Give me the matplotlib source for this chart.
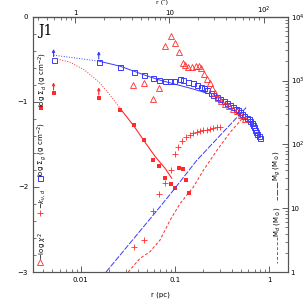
import numpy as np
import matplotlib.pyplot as plt
from matplotlib.ticker import FixedLocator, FixedFormatter, MultipleLocator, LogLocator, NullFormatter

# gas surface density (open blue squares), r in pc
r_gas = [0.00513, 0.0155, 0.026, 0.0364, 0.0468, 0.0577, 0.0676, 0.0783, 0.0885, 0.0976,
         0.113, 0.1216, 0.1375, 0.154, 0.170, 0.1876, 0.204, 0.219, 0.240, 0.254,
         0.278, 0.301, 0.328, 0.355, 0.385, 0.414, 0.440, 0.468, 0.490, 0.513,
         0.545, 0.580, 0.605, 0.628, 0.655, 0.676, 0.695, 0.710, 0.730, 0.751, 0.770, 0.789]
sig_gas = [-0.509, -0.536, -0.588, -0.647, -0.686, -0.725, -0.745, -0.756, -0.760, -0.756,
           -0.736, -0.745, -0.765, -0.784, -0.804, -0.824, -0.842, -0.862, -0.894, -0.921,
           -0.948, -0.972, -0.995, -1.019, -1.042, -1.066, -1.080, -1.098, -1.120, -1.145,
           -1.165, -1.184, -1.205, -1.224, -1.250, -1.274, -1.300, -1.333, -1.355, -1.380, -1.400, -1.419]

# gas model
r_gmod = [0.00513, 0.0155, 0.026, 0.0366, 0.0478, 0.0692, 0.100, 0.1445, 0.219]
sig_gmod = [-0.451, -0.521, -0.580, -0.639, -0.686, -0.745, -0.792, -0.839, -0.898]

# dust surface density (filled red squares)
r_dust = [0.00513, 0.0155, 0.026, 0.0366, 0.0470, 0.0577, 0.0677, 0.0781, 0.0896, 0.100,
          0.1106, 0.1201, 0.1307, 0.1417]
sig_dust = [-0.901, -0.960, -1.092, -1.268, -1.447, -1.682, -1.751, -1.889, -1.966, -2.007,
            -1.776, -1.786, -1.913, -2.066]

# dust model (dotted inside, solid outside)
r_dmod_in = [0.00528, 0.00764, 0.0110, 0.0155, 0.0204, 0.0260]
sig_dmod_in = [-0.489, -0.533, -0.627, -0.765, -0.921, -1.074]
r_dmod_out = [0.0260, 0.0367, 0.0480, 0.0612, 0.0783, 0.0923]
sig_dmod_out = [-1.074, -1.286, -1.474, -1.639, -1.780, -1.898]

# -log chi^2 (open red triangles)
r_chi = [0.0362, 0.0468, 0.0577, 0.0679, 0.0783, 0.0900, 0.1000, 0.1104, 0.1202, 0.1263,
         0.1385, 0.1527, 0.1660, 0.1778, 0.1876, 0.2009, 0.2173, 0.2328, 0.2475, 0.2665,
         0.2891, 0.3085, 0.3403, 0.3752, 0.4137, 0.4565, 0.5036, 0.5489]
chi = [-0.807, -0.774, -0.965, -0.842, -0.341, -0.221, -0.304, -0.412, -0.539, -0.568,
       -0.588, -0.588, -0.576, -0.580, -0.600, -0.668, -0.727, -0.784, -0.839, -0.898,
       -0.960, -0.992, -1.021, -1.051, -1.080, -1.109, -1.151, -1.198]

# -k_nu,d (red pluses)
r_k = [0.0366, 0.0470, 0.0577, 0.0679, 0.0787, 0.0896, 0.0996, 0.1084, 0.1197, 0.1319,
       0.1445, 0.1567, 0.1703, 0.1846, 0.2001, 0.2173, 0.2356, 0.2554, 0.2777, 0.3011]
k = [-2.706, -2.627, -2.282, -2.082, -1.959, -1.804, -1.609, -1.527, -1.462, -1.409,
     -1.384, -1.365, -1.353, -1.345, -1.333, -1.325, -1.318, -1.309, -1.301, -1.294]

# enclosed masses (right axis)
r_mg = [0.0185, 0.0692, 0.096, 0.170, 0.569]
m_g = [1.0, 10.5, 19.1, 56.2, 378]
r_md = [0.0318, 0.0425, 0.0542, 0.0692, 0.0885, 0.113, 0.1566, 0.200, 0.278, 0.385, 0.533]
m_d = [1.0, 1.64, 2.08, 3.16, 6.49, 11.8, 21.5, 39.3, 80.5, 155, 267]

RED = '#ff2a2a'
BLUE = '#3a3aff'
FS = 5

fig = plt.figure(figsize=(3.05, 3.05), dpi=100)
ax = fig.add_axes([0.108, 0.108, 0.836, 0.837])
ax.set_xscale('log')
ax.set_xlim(0.0031, 1.58)
ax.set_ylim(-3, 0)

# gas
ax.plot(r_gmod[:2], sig_gmod[:2], ls=':', color=BLUE, lw=0.7)
ax.plot(r_gmod[1:], sig_gmod[1:], ls='-', color=BLUE, lw=0.7)
ax.plot(r_gas, sig_gas, 's', mfc='none', mec=BLUE, ms=3.6, mew=0.7)

# dust
ax.plot(r_dmod_in, sig_dmod_in, ls=':', color=RED, lw=0.7)
ax.plot(r_dmod_out, sig_dmod_out, ls='-', color=RED, lw=0.8)
ax.plot(r_dust, sig_dust, 's', color=RED, ms=3.4, mew=0)

# limit arrows on the two innermost points
for i in range(2):
    ax.annotate('', xy=(r_gas[i], sig_gas[i]), xytext=(0, 8), textcoords='offset points',
                arrowprops=dict(arrowstyle='<|-', color=BLUE, lw=0.8, mutation_scale=4,
                                shrinkA=0, shrinkB=2.5))
    ax.annotate('', xy=(r_dust[i], sig_dust[i]), xytext=(0, 8), textcoords='offset points',
                arrowprops=dict(arrowstyle='<|-', color=RED, lw=0.8, mutation_scale=4,
                                shrinkA=0, shrinkB=2.5))

ax.plot(r_chi, chi, '^', mfc='none', mec=RED, ms=3.8, mew=0.6)
ax.plot(r_k, k, '+', color=RED, ms=5, mew=0.6)

# right axis: masses
ax2 = ax.twinx()
ax2.set_yscale('log')
ax2.set_ylim(1, 1e4)
ax2.plot(r_mg, m_g, ls=(0, (6, 1.5)), color=BLUE, lw=0.7)
ax2.plot(r_md, m_d, ls=(0, (3, 2)), color=RED, lw=0.7)

# ticks
ax.xaxis.set_major_locator(FixedLocator([0.01, 0.1, 1]))
ax.xaxis.set_major_formatter(FixedFormatter(['0.01', '0.1', '1']))
ax.xaxis.set_minor_locator(LogLocator(base=10, subs=np.arange(2, 10)))
ax.xaxis.set_minor_formatter(NullFormatter())
ax.yaxis.set_major_locator(FixedLocator([0, -1, -2, -3]))
ax.yaxis.set_major_formatter(FixedFormatter(['0', '\u22121', '\u22122', '\u22123']))
ax.yaxis.set_minor_locator(MultipleLocator(0.2))
ax.tick_params(which='both', direction='in', labelsize=FS, color='#444444')
ax.tick_params(which='major', length=4, width=0.6)
ax.tick_params(which='minor', length=2, width=0.5)

ax2.yaxis.set_major_locator(FixedLocator([1, 10, 100, 1000, 10000]))
ax2.yaxis.set_major_formatter(FixedFormatter(['1', '10', '10$^2$', '10$^3$', '10$^4$']))
ax2.yaxis.set_minor_locator(LogLocator(base=10, subs=np.arange(2, 10)))
ax2.yaxis.set_minor_formatter(NullFormatter())
ax2.tick_params(which='both', direction='in', labelsize=FS, color='#444444', pad=2)
ax2.tick_params(which='major', length=4, width=0.6)
ax2.tick_params(which='minor', length=2, width=0.5)

D = 0.0087
sec = ax.secondary_xaxis('top', functions=(lambda r: r / D, lambda a: a * D))
sec.xaxis.set_major_locator(FixedLocator([1, 10, 100]))
sec.xaxis.set_major_formatter(FixedFormatter(['1', '10', '10$^2$']))
sec.xaxis.set_minor_locator(LogLocator(base=10, subs=np.arange(2, 10)))
sec.xaxis.set_minor_formatter(NullFormatter())
sec.tick_params(which='both', direction='in', labelsize=FS, color='#444444', pad=0.5)
sec.tick_params(which='major', length=4, width=0.6)
sec.tick_params(which='minor', length=2, width=0.5)

for a in (ax, ax2):
    for s in a.spines.values():
        s.set_linewidth(0.8)
        s.set_color('#555555')

ax.set_xlabel('r (pc)', fontsize=FS, labelpad=6)
fig.text(162 / 305, 1 - 0.3 / 305, 'r (\u2033)', fontsize=4.6, ha='center', va='top')

ax.text(0.02, 0.945, 'J1', transform=ax.transAxes, fontsize=10, family='DejaVu Serif',
        va='center', ha='left')

# in-plot legend, left side
tk = dict(transform=ax.transAxes, rotation=90, fontsize=FS, ha='center', va='center')
ax.text(0.037, 0.755, r'log $\Sigma_d$ (g cm$^{-2}$)', **tk)
ax.plot([0.030], [0.642], 's', color=RED, ms=3.4, mew=0, transform=ax.transAxes, clip_on=False)
ax.text(0.037, 0.478, r'log $\Sigma_g$ (g cm$^{-2}$)', **tk)
ax.plot([0.027], [0.368], 's', mfc='none', mec=BLUE, ms=3.6, mew=0.7, transform=ax.transAxes)
ax.text(0.037, 0.288, r'$-k_{\nu,d}$', **tk)
ax.plot([0.027], [0.231], '+', color=RED, ms=5, mew=0.6, transform=ax.transAxes)
ax.text(0.037, 0.102, r'$-$log $\chi^2$', **tk)
ax.plot([0.027], [0.039], '^', mfc='none', mec=RED, ms=3.8, mew=0.6, transform=ax.transAxes)

# in-plot legend, right side
ax.text(0.957, 0.419, r'M$_g$ (M$_\odot$)', **tk)
ax.plot([0.957, 0.957], [0.353, 0.282], ls=(0, (6, 1.5)), color=BLUE, lw=0.7, transform=ax.transAxes)
ax.text(0.957, 0.196, r'M$_d$ (M$_\odot$)', **tk)
ax.plot([0.957, 0.957], [0.137, 0.035], ls=(0, (3, 2)), color=RED, lw=0.7, transform=ax.transAxes)

fig.savefig('out.png', dpi=100)
